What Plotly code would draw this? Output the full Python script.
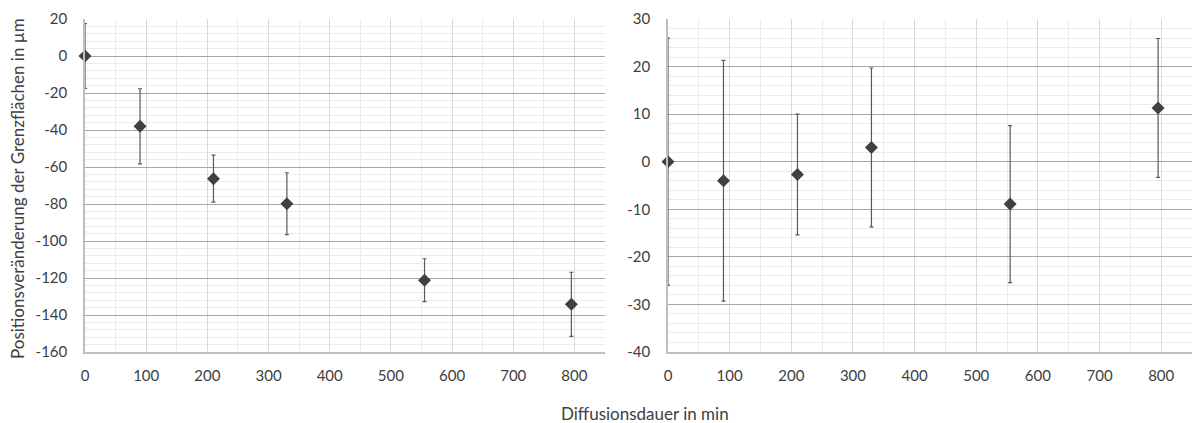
import plotly.graph_objects as go

W, H = 1195, 423

# Data
time_min = [0, 90, 210, 330, 555, 795]
left_shift = [0, -38, -66.3, -79.8, -121.2, -134.2]
left_err = [17.5, 20.3, 12.7, 16.7, 11.6, 17.3]
right_shift = [0, -4.0, -2.7, 3.0, -8.9, 11.3]
right_err = [26, 25.3, 12.7, 16.7, 16.5, 14.6]

x_ticks = [0, 100, 200, 300, 400, 500, 600, 700, 800]
left_y_ticks = [20, 0, -20, -40, -60, -80, -100, -120, -140, -160]
right_y_ticks = [30, 20, 10, 0, -10, -20, -30, -40]

x_title = "Diffusionsdauer in min"
y_title = "Positionsveränderung der Grenzflächen in µm"

FONT = "Lato"
TXT = "#404040"
MARK = "#404040"
ERR = "#5a5a5a"

fig = go.Figure()

for xa, ya, ys, es in [("x", "y", left_shift, left_err), ("x2", "y2", right_shift, right_err)]:
    fig.add_trace(go.Scatter(
        x=time_min, y=ys, xaxis=xa, yaxis=ya, mode="markers",
        marker=dict(symbol="diamond", size=10, color=MARK),
        error_y=dict(type="data", array=es, visible=True, color=ERR, thickness=1.2, width=2),
        showlegend=False, cliponaxis=False,
    ))

def px_x(p):
    return p / W

def px_y(p):
    return 1 - p / H

xcommon = dict(
    range=[0, 850], tickvals=x_ticks, ticktext=[str(v) for v in x_ticks],
    showgrid=True, gridcolor="#d9d9d9", gridwidth=1,
    minor=dict(dtick=50, tick0=0, showgrid=True, gridcolor="#ececec", gridwidth=1),
    showline=True, linecolor="#bfbfbf", linewidth=1.5, zeroline=False,
    ticks="", tickfont=dict(family=FONT, size=15, color=TXT), fixedrange=True,
    automargin=False, ticklabelstandoff=9,
)
ycommon = dict(
    showgrid=True, gridcolor="#a6a6a6", gridwidth=1,
    showline=True, linecolor="#bfbfbf", linewidth=1.5, zeroline=False,
    ticks="", tickfont=dict(family=FONT, size=15, color=TXT),
    domain=[px_y(352), px_y(19)], fixedrange=True, ticklabelstandoff=13,
    automargin=False,
)

fig.update_layout(
    template="none",
    width=W, height=H, margin=dict(l=0, r=0, t=0, b=0, autoexpand=False),
    paper_bgcolor="white", plot_bgcolor="white",
    xaxis=dict(xcommon, domain=[px_x(85), px_x(605)], anchor="y"),
    yaxis=dict(ycommon, range=[-160, 20], tickvals=left_y_ticks,
               ticktext=[str(v) for v in left_y_ticks],
               minor=dict(dtick=4, tick0=0, showgrid=True, gridcolor="#ebebeb", gridwidth=1), anchor="x"),
    xaxis2=dict(xcommon, domain=[px_x(668), px_x(1192)], anchor="y2"),
    yaxis2=dict(ycommon, range=[-40, 30], tickvals=right_y_ticks,
                ticktext=[str(v) for v in right_y_ticks],
                minor=dict(dtick=2, tick0=0, showgrid=True, gridcolor="#ebebeb", gridwidth=1), anchor="x2"),
    annotations=[
        dict(text=x_title, x=px_x(645), y=px_y(413), xref="paper", yref="paper",
             xanchor="center", yanchor="middle", showarrow=False,
             font=dict(family=FONT, size=17, color=TXT)),
        dict(text=y_title, x=px_x(17), y=px_y(189), xref="paper", yref="paper",
             xanchor="center", yanchor="middle", showarrow=False, textangle=-90,
             font=dict(family=FONT, size=17, color=TXT)),
    ],
)

fig.write_html("out.html")
